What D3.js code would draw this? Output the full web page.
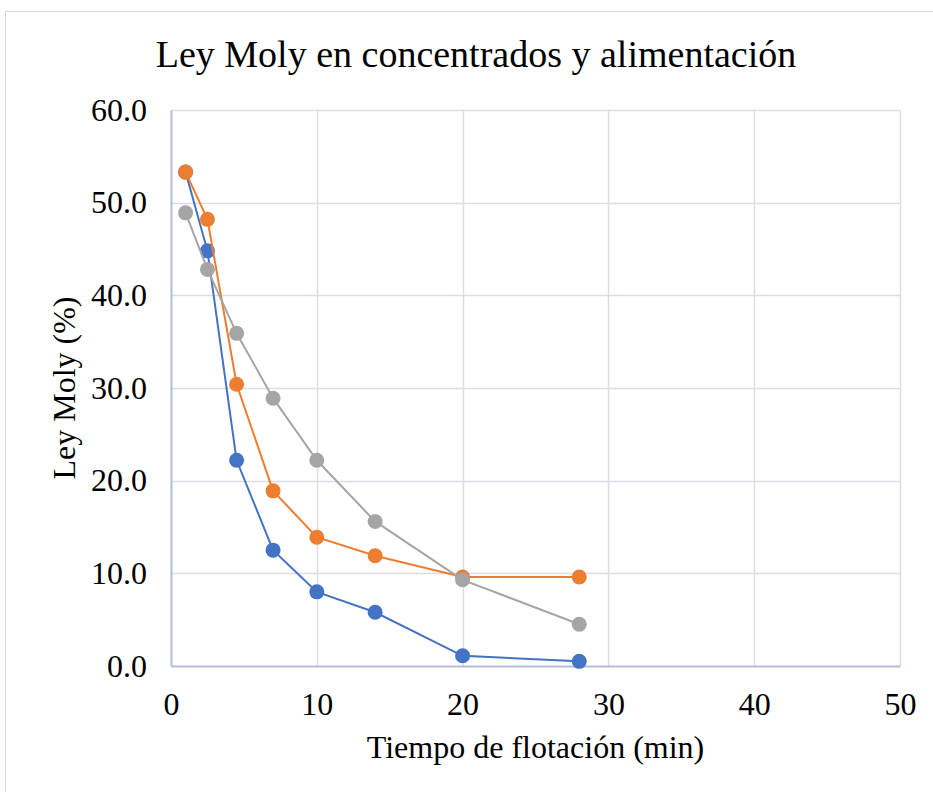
<!DOCTYPE html>
<html>
<head>
<meta charset="utf-8">
<script src="https://cdn.jsdelivr.net/npm/d3@7"></script>
<style>
  body { margin: 0; background: #fff; }
  svg text { font-family: "Liberation Serif", "Times New Roman", serif; fill: #000; }
</style>
</head>
<body>
<svg id="chart" width="933" height="792"></svg>
<script>
// tiempos de flotación (min)
var tiempos = [1, 2.5, 4.5, 7, 10, 14, 20, 28];

// ley moly (%) por serie
var serieAzul = [53.3, 44.8, 22.2, 12.5, 8.0, 5.8, 1.1, 0.5];
var serieNaranja = [53.3, 48.2, 30.4, 18.9, 13.9, 11.9, 9.6, 9.6];
var serieGris = [48.9, 42.8, 35.9, 28.9, 22.2, 15.6, 9.3, 4.5];

var xTicks = [0, 10, 20, 30, 40, 50];
var yTicks = [0, 10, 20, 30, 40, 50, 60];

var series = [
  { valores: serieAzul, color: '#4472C4' },
  { valores: serieNaranja, color: '#ED7D31' },
  { valores: serieGris, color: '#A5A5A5' }
];

var margin = {top: 110, right: 33, bottom: 126, left: 171},
    width = 933 - margin.left - margin.right,
    height = 792 - margin.top - margin.bottom;

var svg = d3.select('#chart');

// marco del gráfico
svg.append('rect')
    .attr('x', 5.5).attr('y', 11.5)
    .attr('width', 960).attr('height', 820)
    .attr('fill', 'none')
    .attr('stroke', '#d9d9d9');

var g = svg.append('g')
    .attr('transform', 'translate(' + margin.left + ',' + margin.top + ')');

var x = d3.scaleLinear().domain([0, 50]).range([0, width]);
var y = d3.scaleLinear().domain([0, 60]).range([height, 0]);

// rejilla
g.selectAll('.hgrid')
    .data(yTicks.slice(1))
  .enter().append('line')
    .attr('x1', 0).attr('x2', width)
    .attr('y1', function(d) { return Math.round(y(d)) + 0.5; })
    .attr('y2', function(d) { return Math.round(y(d)) + 0.5; })
    .attr('stroke', '#d9dde6').attr('stroke-width', 1.5);

g.selectAll('.vgrid')
    .data(xTicks.slice(1))
  .enter().append('line')
    .attr('y1', 0).attr('y2', height)
    .attr('x1', function(d) { return Math.round(x(d)) + 0.5; })
    .attr('x2', function(d) { return Math.round(x(d)) + 0.5; })
    .attr('stroke', '#d9dde6').attr('stroke-width', 1.5);

// ejes
var xAxis = d3.axisBottom(x).tickValues(xTicks).tickSize(0);
var yAxis = d3.axisLeft(y).tickValues(yTicks).tickSize(0).tickPadding(24)
    .tickFormat(d3.format('.1f'));

var gx = g.append('g')
    .attr('transform', 'translate(0,' + height + ')')
    .call(xAxis);
gx.select('.domain').attr('stroke', '#b4bfd4').attr('stroke-width', 2);
gx.selectAll('text').style('font-size', '32px').attr('y', 49).attr('dy', 0);

var gy = g.append('g').call(yAxis);
gy.select('.domain').attr('stroke', '#b4bfd4').attr('stroke-width', 2);
gy.selectAll('text').style('font-size', '32px');

// series
var line = d3.line()
    .x(function(d, i) { return x(tiempos[i]); })
    .y(function(d) { return y(d); });

series.forEach(function(s) {
  g.append('path')
      .datum(s.valores)
      .attr('fill', 'none')
      .attr('stroke', s.color)
      .attr('stroke-width', 2)
      .attr('d', line);

  g.selectAll(null)
      .data(s.valores)
    .enter().append('circle')
      .attr('cx', function(d, i) { return x(tiempos[i]); })
      .attr('cy', function(d) { return y(d); })
      .attr('r', 7.5)
      .attr('fill', s.color);
});

// títulos
svg.append('text')
    .attr('x', 476).attr('y', 67)
    .attr('text-anchor', 'middle')
    .style('font-size', '38px')
    .text('Ley Moly en concentrados y alimentación');

svg.append('text')
    .attr('x', margin.left + width / 2).attr('y', 758)
    .attr('text-anchor', 'middle')
    .style('font-size', '32px')
    .text('Tiempo de flotación (min)');

svg.append('text')
    .attr('transform', 'translate(75,' + (margin.top + height / 2) + ') rotate(-90)')
    .attr('text-anchor', 'middle')
    .style('font-size', '32px')
    .text('Ley Moly (%)');
</script>
</body>
</html>
